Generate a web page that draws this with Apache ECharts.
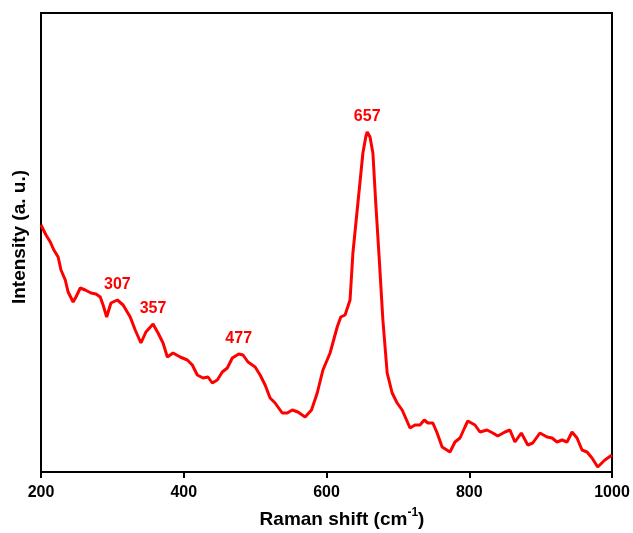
<!DOCTYPE html>
<html>
<head>
<meta charset="utf-8">
<title>Raman spectrum</title>
<script src="https://cdn.jsdelivr.net/npm/echarts@6/dist/echarts.min.js"></script>
<style>
  html, body { margin: 0; padding: 0; background: #fff; }
  #chart { width: 633px; height: 533px; }
</style>
</head>
<body>
<div id="chart"></div>
<script>
// Raman shift (cm^-1) and measured intensity (arbitrary units)
const ramanShift = [
  200, 207, 213, 218, 224, 228, 234, 238, 245, 249, 255, 262, 270, 277, 283, 287,
  292, 298, 307, 315, 325, 332, 340, 347, 357, 364, 371, 377, 385, 395, 405, 412,
  419, 427, 434, 440, 447, 454, 461, 468, 477, 483, 490, 500, 507, 514, 521, 528,
  538, 545, 552, 560, 570, 579, 587, 595, 605, 615, 620, 626, 633, 637, 644, 651,
  655, 657, 661, 665, 669, 674, 679, 685, 692, 699, 706, 714, 717, 724, 731, 737,
  742, 749, 755, 762, 773, 780, 787, 794, 798, 808, 815, 825, 833, 840, 850, 857,
  864, 873, 882, 889, 899, 909, 916, 923, 930, 937, 944, 951, 958, 965, 972, 980,
  990, 1000
];
const intensity = [
  247, 237, 230, 222, 215, 202, 192, 180, 170, 175, 184, 182, 179, 178, 175, 167,
  155, 169, 172, 167, 155, 142, 129, 140, 148, 139, 129, 115, 119, 115, 112, 107,
  97, 94, 95, 89, 92, 100, 104, 114, 118, 117, 110, 105, 97, 87, 74, 69,
  59, 59, 62, 60, 55, 62, 79, 102, 119, 145, 155, 157, 172, 219, 269, 319,
  335, 340, 335, 319, 269, 212, 152, 99, 79, 69, 62, 49, 44, 47, 47, 52,
  49, 49, 39, 25, 20, 30, 34, 45, 51, 47, 40, 42, 39, 36, 40, 42,
  30, 39, 27, 29, 39, 35, 34, 30, 32, 30, 40, 34, 22, 20, 14, 5,
  12, 17
];
// Band positions annotated on the spectrum
const peaks = [307, 357, 477, 657];

// x-axis ticks
const xMin = 200, xMax = 1000, xStep = 200;

const FONT = 'Liberation Sans, Arial, sans-serif';
const RED = '#ff0000';

const seriesData = ramanShift.map((x, i) => {
  const item = { value: [x, intensity[i]] };
  if (peaks.includes(x)) {
    item.label = { show: true };
  }
  return item;
});

const chart = echarts.init(document.getElementById('chart'), null, { renderer: 'canvas' });

chart.setOption({
  animation: false,
  backgroundColor: '#fff',
  grid: {
    left: 41, right: 21, top: 13, bottom: 61,
    show: true, borderColor: '#000', borderWidth: 2
  },
  xAxis: {
    type: 'value',
    min: xMin, max: xMax, interval: xStep,
    axisLine: { show: true, lineStyle: { color: '#000', width: 2 } },
    axisTick: { show: true, inside: false, length: 6, lineStyle: { color: '#000', width: 2 } },
    axisLabel: {
      color: '#000', fontFamily: FONT, fontWeight: 'bold', fontSize: 16, margin: 13,
      formatter: v => String(v)
    },
    splitLine: { show: false }
  },
  yAxis: {
    type: 'value',
    min: 0, max: 459,
    axisLine: { show: true, lineStyle: { color: '#000', width: 2 } },
    axisTick: { show: false },
    axisLabel: { show: false },
    splitLine: { show: false }
  },
  series: [{
    type: 'line',
    data: seriesData,
    showSymbol: true,
    showAllSymbol: true,
    symbol: 'circle',
    symbolSize: 0,
    lineStyle: { color: RED, width: 3 },
    itemStyle: { color: RED },
    label: {
      show: false,
      position: 'top',
      distance: 7,
      color: RED,
      fontFamily: FONT,
      fontWeight: 'bold',
      fontSize: 16,
      formatter: p => String(p.value[0])
    }
  }],
  graphic: [
    {
      type: 'text',
      x: 342, y: 518,
      style: {
        text: '{b|Raman shift (cm}{s|-1}{b|)}',
        align: 'center',
        verticalAlign: 'middle',
        rich: {
          b: { fontFamily: FONT, fontWeight: 'bold', fontSize: 19, fill: '#000', verticalAlign: 'bottom' },
          s: { fontFamily: FONT, fontWeight: 'bold', fontSize: 12, fill: '#000', verticalAlign: 'top', padding: [0, 0, 10, 0] }
        }
      }
    },
    {
      type: 'text',
      x: 20, y: 237,
      rotation: Math.PI / 2,
      style: {
        text: 'Intensity (a. u.)',
        align: 'center',
        verticalAlign: 'middle',
        fontFamily: FONT,
        fontWeight: 'bold',
        fontSize: 19,
        fill: '#000'
      }
    }
  ]
});
</script>
</body>
</html>
